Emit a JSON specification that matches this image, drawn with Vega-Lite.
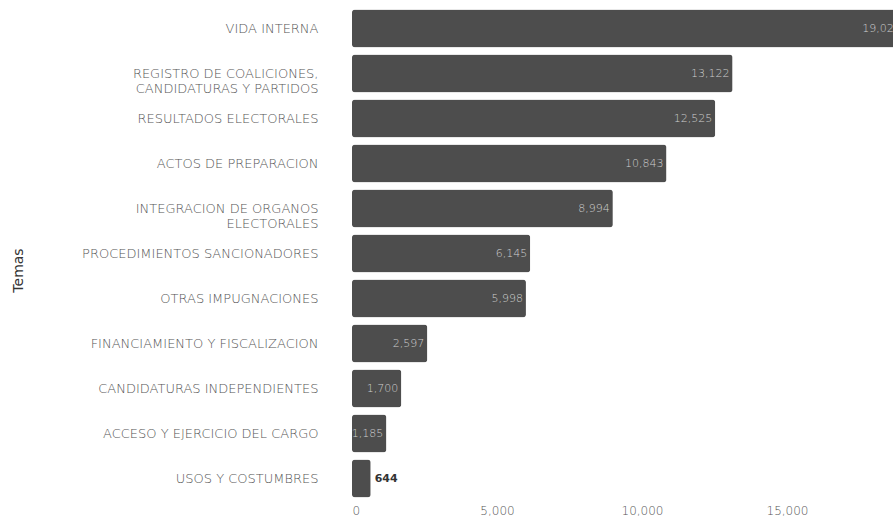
{
  "$schema": "https://vega.github.io/schema/vega-lite/v6.json",
  "autosize": "none",
  "width": 541,
  "height": 495,
  "padding": {"left": 352, "top": 6, "right": 0, "bottom": 22},
  "background": "white",
  "config": {"view": {"stroke": null}, "font": "DejaVu Sans"},
  "data": {
    "values": [
      {"tema": "VIDA INTERNA", "casos": 19025},
      {"tema": "REGISTRO DE COALICIONES,|CANDIDATURAS Y PARTIDOS", "casos": 13122},
      {"tema": "RESULTADOS ELECTORALES", "casos": 12525},
      {"tema": "ACTOS DE PREPARACION", "casos": 10843},
      {"tema": "INTEGRACION DE ORGANOS|ELECTORALES", "casos": 8994},
      {"tema": "PROCEDIMIENTOS SANCIONADORES", "casos": 6145},
      {"tema": "OTRAS IMPUGNACIONES", "casos": 5998},
      {"tema": "FINANCIAMIENTO Y FISCALIZACION", "casos": 2597},
      {"tema": "CANDIDATURAS INDEPENDIENTES", "casos": 1700},
      {"tema": "ACCESO Y EJERCICIO DEL CARGO", "casos": 1185},
      {"tema": "USOS Y COSTUMBRES", "casos": 644}
    ]
  },
  "encoding": {
    "y": {
      "field": "tema",
      "type": "nominal",
      "sort": [
        "VIDA INTERNA",
        "REGISTRO DE COALICIONES,|CANDIDATURAS Y PARTIDOS",
        "RESULTADOS ELECTORALES",
        "ACTOS DE PREPARACION",
        "INTEGRACION DE ORGANOS|ELECTORALES",
        "PROCEDIMIENTOS SANCIONADORES",
        "OTRAS IMPUGNACIONES",
        "FINANCIAMIENTO Y FISCALIZACION",
        "CANDIDATURAS INDEPENDIENTES",
        "ACCESO Y EJERCICIO DEL CARGO",
        "USOS Y COSTUMBRES"
      ],
      "scale": {"paddingInner": 0.16, "paddingOuter": 0.08},
      "axis": {
        "title": "Temas",
        "titleFont": "DejaVu Sans",
        "titleFontSize": 14,
        "titleFontWeight": "normal",
        "titleColor": "#333333",
        "titleAngle": -90,
        "titleX": -334,
        "titleY": 264,
        "titleAlign": "center",
        "titleBaseline": "middle",
        "labelExpr": "split(datum.label, '|')",
        "labelFont": "DejaVu Sans",
        "labelFontSize": 13,
        "labelFontWeight": 300,
        "labelColor": "#555555",
        "labelPadding": 34,
        "labelLimit": 320,
        "labelLineHeight": 15,
        "labelBaseline": "middle",
        "ticks": false,
        "domain": false
      }
    },
    "x": {
      "field": "casos",
      "type": "quantitative",
      "scale": {"domain": [0, 18655], "nice": false},
      "axis": {
        "title": null,
        "values": [0, 5000, 10000, 15000],
        "format": ",d",
        "grid": false,
        "ticks": false,
        "domain": false,
        "labelFont": "DejaVu Sans",
        "labelFontSize": 12,
        "labelFontWeight": 300,
        "labelColor": "#555555",
        "labelPadding": 4
      }
    }
  },
  "layer": [
    {
      "mark": {"type": "bar", "color": "#4d4d4d", "cornerRadius": 3}
    },
    {
      "transform": [{"filter": "datum.casos >= 1000"}],
      "mark": {"type": "text", "font": "DejaVu Sans", "fontSize": 11, "fontWeight": 300, "baseline": "middle", "align": "right", "dx": -3, "color": "#cfcfcf"},
      "encoding": {
        "text": {"field": "casos", "type": "quantitative", "format": ","}
      }
    },
    {
      "transform": [{"filter": "datum.casos < 1000"}],
      "mark": {"type": "text", "font": "DejaVu Sans", "fontSize": 11, "baseline": "middle", "align": "left", "dx": 4, "color": "#333333", "fontWeight": "bold"},
      "encoding": {
        "text": {"field": "casos", "type": "quantitative", "format": ","}
      }
    }
  ]
}
